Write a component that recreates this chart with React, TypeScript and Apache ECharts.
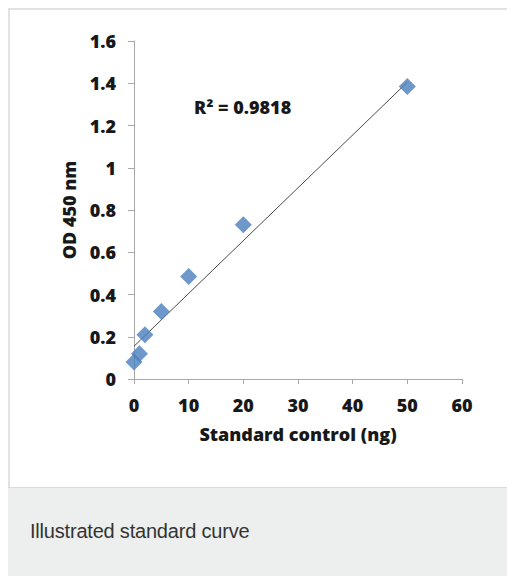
import React, { useEffect, useRef } from "react";
import * as echarts from "echarts";

const xTicks = [0, 10, 20, 30, 40, 50, 60];
const yTicks = [0, 0.2, 0.4, 0.6, 0.8, 1, 1.2, 1.4, 1.6];
const standardNg = [0, 1, 2, 5, 10, 20, 50];
const od450 = [0.08, 0.12, 0.21, 0.32, 0.485, 0.73, 1.385];
const trendX = [0, 50];
const trendY = [0.155, 1.405];
const r2Label = "R² = 0.9818";
const xName = "Standard control (ng)";
const yName = "OD 450 nm";
const caption = "Illustrated standard curve";

const FONT = "'Open Sans', 'Noto Sans', sans-serif";
const TXT = "#181818";
const AX = "#a8a8a8";

export default function App() {
  const ref = useRef<HTMLDivElement>(null);
  useEffect(() => {
    if (!ref.current) return;
    const chart = echarts.init(ref.current, undefined, { renderer: "svg" });
    chart.setOption({
      animation: false,
      grid: { left: 134, top: 41, width: 328, height: 338, containLabel: false },
      xAxis: {
        type: "value",
        min: xTicks[0],
        max: xTicks[xTicks.length - 1],
        interval: 10,
        name: xName,
        nameLocation: "middle",
        nameGap: 46,
        nameTextStyle: { fontFamily: FONT, fontWeight: 800, fontSize: 18, color: TXT },
        axisLine: { show: true, lineStyle: { color: AX, width: 1 } },
        axisTick: { show: true, length: 5, lineStyle: { color: AX } },
        axisLabel: { margin: 17, fontFamily: FONT, fontWeight: 800, fontSize: 18, color: TXT },
        splitLine: { show: false },
      },
      yAxis: {
        type: "value",
        min: yTicks[0],
        max: yTicks[yTicks.length - 1],
        interval: 0.2,
        name: yName,
        nameLocation: "middle",
        nameRotate: 90,
        nameGap: 56,
        nameTextStyle: { fontFamily: FONT, fontWeight: 800, fontSize: 18, color: TXT },
        axisLine: { show: true, lineStyle: { color: AX, width: 1 } },
        axisTick: { show: true, length: 6, lineStyle: { color: AX } },
        axisLabel: {
          margin: 18,
          fontFamily: FONT,
          fontWeight: 800,
          fontSize: 18,
          color: TXT,
          formatter: (v: number) => String(Math.round(v * 10) / 10),
        },
        splitLine: { show: false },
      },
      graphic: [
        {
          type: "text",
          left: 194,
          top: 98,
          style: { text: r2Label, fontFamily: FONT, fontWeight: 800, fontSize: 18, fill: TXT },
        },
      ],
      series: [
        {
          type: "line",
          data: trendX.map((x, i) => [x, trendY[i]]),
          showSymbol: false,
          symbol: "none",
          lineStyle: { color: "#4a4a4a", width: 1 },
          silent: true,
          z: 1,
        },
        {
          type: "scatter",
          data: standardNg.map((x, i) => [x, od450[i]]),
          symbol: "diamond",
          symbolSize: 17,
          itemStyle: { color: "#4a7ebb" },
          z: 2,
        },
      ],
    });
    return () => chart.dispose();
  }, []);

  return (
    <div style={{ position: "absolute", left: 0, top: 0, width: 507, height: 576, background: "#fff", overflow: "hidden" }}>
      <style>{"body{margin:0;overflow:hidden}"}</style>
      <div
        style={{
          position: "absolute",
          left: 8,
          top: 8,
          width: 499,
          height: 568,
          borderTop: "2px solid #e2e2e2",
          borderLeft: "2px solid #e2e2e2",
          boxSizing: "border-box",
        }}
      />
      <div
        style={{
          position: "absolute",
          left: 8,
          top: 487,
          width: 499,
          height: 89,
          background: "#edefef",
          borderTop: "1px solid #dadada",
          boxSizing: "border-box",
        }}
      />
      <div
        style={{
          position: "absolute",
          left: 30,
          top: 521,
          fontFamily: "'Liberation Sans', Arial, sans-serif",
          fontSize: 20,
          lineHeight: "20px",
          color: "#333",
          whiteSpace: "nowrap",
          letterSpacing: "-0.2px",
        }}
      >
        {caption}
      </div>
      <div ref={ref} style={{ position: "absolute", left: 0, top: 0, width: 507, height: 487 }} />
    </div>
  );
}
